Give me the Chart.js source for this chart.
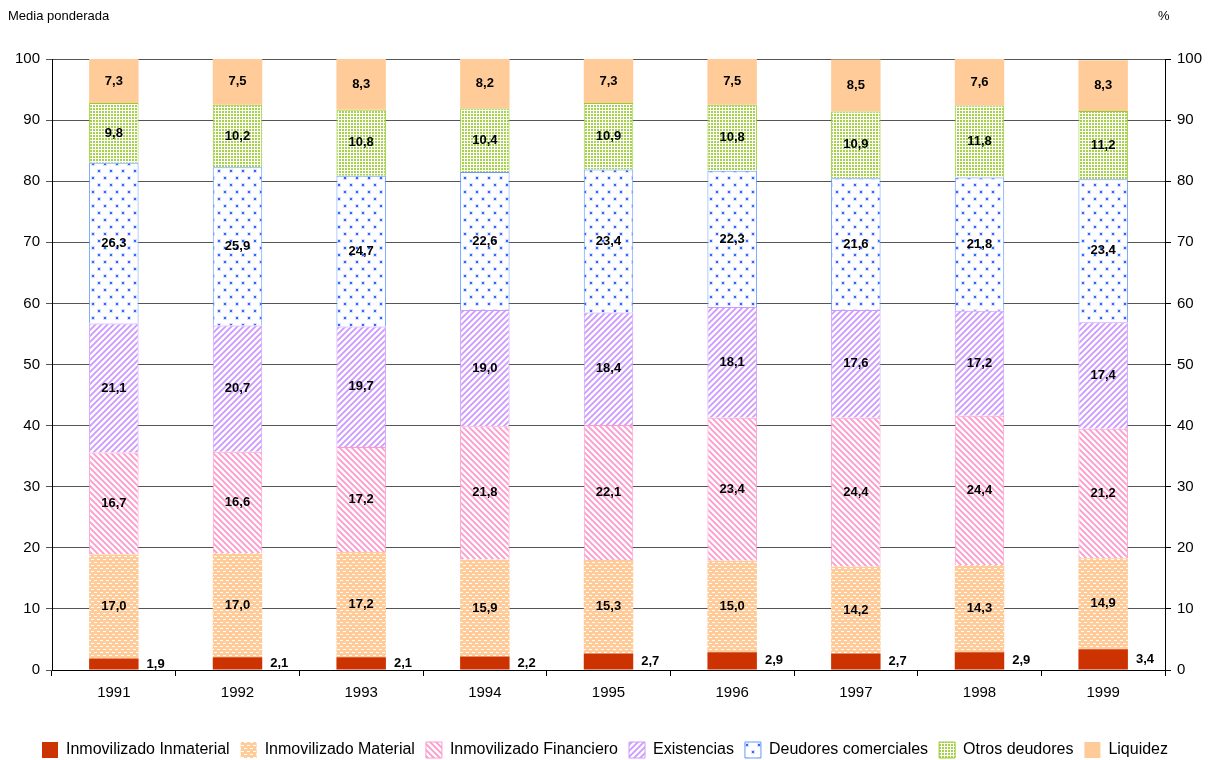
<!DOCTYPE html>
<html>
<head>
<meta charset="utf-8">
<script src="https://cdn.jsdelivr.net/npm/chart.js@4"></script>
<style>
  body { margin: 0; background: #fff; }
</style>
</head>
<body>
<canvas id="chartActivo" width="1210" height="760"></canvas>
<script>
const years = ['1991','1992','1993','1994','1995','1996','1997','1998','1999'];
const inmaterial = [1.9, 2.1, 2.1, 2.2, 2.7, 2.9, 2.7, 2.9, 3.4];
const material = [17.0, 17.0, 17.2, 15.9, 15.3, 15.0, 14.2, 14.3, 14.9];
const financiero = [16.7, 16.6, 17.2, 21.8, 22.1, 23.4, 24.4, 24.4, 21.2];
const existencias = [21.1, 20.7, 19.7, 19.0, 18.4, 18.1, 17.6, 17.2, 17.4];
const deudores = [26.3, 25.9, 24.7, 22.6, 23.4, 22.3, 21.6, 21.8, 23.4];
const otros = [9.8, 10.2, 10.8, 10.4, 10.9, 10.8, 10.9, 11.8, 11.2];
const liquidez = [7.3, 7.5, 8.3, 8.2, 7.3, 7.5, 8.5, 7.6, 8.3];
const yTicks = [0, 10, 20, 30, 40, 50, 60, 70, 80, 90, 100];

const FONT = 'Liberation Sans, Arial, sans-serif';

// small tiles used as fill patterns
function makePattern(w, h, draw) {
  const c = document.createElement('canvas');
  c.width = w; c.height = h;
  const g = c.getContext('2d');
  draw(g);
  return g.createPattern(c, 'repeat');
}

const patMaterial = makePattern(6, 6, g => {
  g.fillStyle = '#FFCC99'; g.fillRect(0, 0, 6, 6);
  g.fillStyle = '#ffffff';
  g.fillRect(1, 1, 3, 1);
  g.fillRect(4, 4, 2, 1); g.fillRect(0, 4, 1, 1);
});
const patFinanciero = makePattern(6, 6, g => {
  g.fillStyle = '#ffffff'; g.fillRect(0, 0, 6, 6);
  g.strokeStyle = '#FF99CC'; g.lineWidth = 1.8;
  g.beginPath();
  g.moveTo(-1, -1); g.lineTo(7, 7);
  g.moveTo(-4, 2); g.lineTo(4, 10);
  g.moveTo(2, -4); g.lineTo(10, 4);
  g.stroke();
});
const patExistencias = makePattern(6, 6, g => {
  g.fillStyle = '#ffffff'; g.fillRect(0, 0, 6, 6);
  g.strokeStyle = '#CC99FF'; g.lineWidth = 1.8;
  g.beginPath();
  g.moveTo(-1, 7); g.lineTo(7, -1);
  g.moveTo(-4, 4); g.lineTo(4, -4);
  g.moveTo(2, 10); g.lineTo(10, 2);
  g.stroke();
});
const patDeudores = makePattern(12, 14, g => {
  g.fillStyle = '#ffffff'; g.fillRect(0, 0, 12, 14);
  g.fillStyle = '#D6E0FF';
  g.fillRect(1, 1, 4, 4); g.fillRect(7, 8, 4, 4);
  g.fillStyle = '#3366FF';
  g.fillRect(2, 2, 2, 2); g.fillRect(8, 9, 2, 2);
});
const patOtros = makePattern(3, 3, g => {
  g.fillStyle = '#ffffff'; g.fillRect(0, 0, 3, 3);
  g.fillStyle = '#A6D14D';
  g.fillRect(0, 0, 2, 2);
});

const fmt = v => v.toFixed(1).replace('.', ',');

// value labels on the segments
const segmentLabels = {
  id: 'segmentLabels',
  afterDatasetsDraw(chart) {
    const ctx = chart.ctx;
    const area = chart.chartArea;
    ctx.save();
    ctx.font = 'bold 13px ' + FONT;
    ctx.fillStyle = '#000';
    ctx.textBaseline = 'middle';
    chart.data.datasets.forEach((ds, di) => {
      const meta = chart.getDatasetMeta(di);
      meta.data.forEach((bar, i) => {
        const top = Math.max(bar.y, area.top);
        const cy = (top + bar.base) / 2;
        if (di === 0) {
          ctx.textAlign = 'left';
          ctx.fillText(fmt(ds.data[i]), bar.x + bar.width / 2 + 8, cy);
        } else {
          ctx.textAlign = 'center';
          ctx.fillText(fmt(ds.data[i]), bar.x, cy);
        }
      });
    });
    ctx.restore();
  },
  afterDraw(chart) {
    const ctx = chart.ctx;
    ctx.save();
    ctx.font = '13px ' + FONT;
    ctx.fillStyle = '#000';
    ctx.textBaseline = 'middle';
    ctx.textAlign = 'left';
    ctx.fillText('Media ponderada', 8, 16);
    ctx.fillText('%', 1158, 16);
    ctx.restore();
  }
};

const ctxEl = document.getElementById('chartActivo').getContext('2d');

new Chart(ctxEl, {
  type: 'bar',
  data: {
    labels: years,
    datasets: [
      { label: 'Inmovilizado Inmaterial', data: inmaterial, backgroundColor: '#CC3300', borderWidth: 0 },
      { label: 'Inmovilizado Material', data: material, backgroundColor: patMaterial, borderWidth: 0 },
      { label: 'Inmovilizado Financiero', data: financiero, backgroundColor: patFinanciero, borderColor: '#FF99CC', borderWidth: 1 },
      { label: 'Existencias', data: existencias, backgroundColor: patExistencias, borderColor: '#CC99FF', borderWidth: 1 },
      { label: 'Deudores comerciales', data: deudores, backgroundColor: patDeudores, borderColor: '#6699FF', borderWidth: 1 },
      { label: 'Otros deudores', data: otros, backgroundColor: patOtros, borderColor: '#99CC33', borderWidth: 1 },
      { label: 'Liquidez', data: liquidez, backgroundColor: '#FFCC99', borderWidth: 0 }
    ]
  },
  options: {
    responsive: false,
    animation: false,
    datasets: { bar: { barPercentage: 0.4, categoryPercentage: 1 } },
    layout: { padding: { top: 59, bottom: -8 } },
    plugins: {
      title: { display: false },
      tooltip: { enabled: false },
      legend: {
        position: 'bottom',
        labels: {
          boxWidth: 16,
          boxHeight: 16,
          padding: 11,
          color: '#000',
          font: { family: FONT, size: 16 }
        }
      }
    },
    scales: {
      x: {
        stacked: true,
        grid: { drawOnChartArea: false, offset: true, color: '#000', tickLength: 6 },
        border: { color: '#000' },
        ticks: { color: '#000', font: { family: FONT, size: 15 }, padding: 8 },
        afterFit(scale) { scale.height = 61; }
      },
      y: {
        stacked: true,
        min: 0,
        max: 100,
        afterBuildTicks(scale) { scale.ticks = yTicks.map(v => ({ value: v })); },
        grid: { color: '#555', tickLength: 6, drawTicks: true },
        border: { color: '#000' },
        ticks: { color: '#000', font: { family: FONT, size: 15 }, padding: 6 },
        afterFit(scale) { scale.width = 52; }
      },
      y2: {
        position: 'right',
        min: 0,
        max: 100,
        afterBuildTicks(scale) { scale.ticks = yTicks.map(v => ({ value: v })); },
        grid: { drawOnChartArea: false, color: '#000', tickLength: 6 },
        border: { color: '#000' },
        ticks: { color: '#000', font: { family: FONT, size: 15 }, padding: 6 },
        afterFit(scale) { scale.width = 45; }
      }
    }
  },
  plugins: [segmentLabels]
});
</script>
</body>
</html>
